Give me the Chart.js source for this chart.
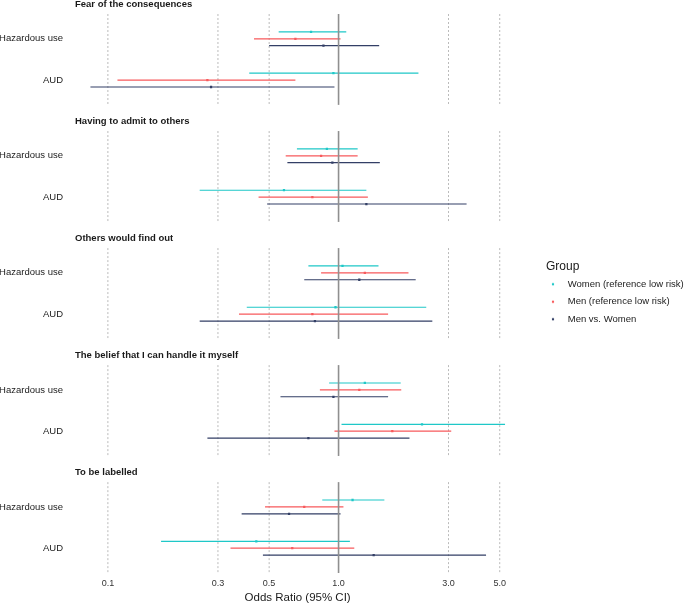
<!DOCTYPE html>
<html>
<head>
<meta charset="utf-8">
<script src="https://cdn.jsdelivr.net/npm/chart.js@4.4.1/dist/chart.umd.min.js"></script>
<style>
  html, body { margin: 0; padding: 0; background: #fff; }
  #wrap { width: 685px; height: 603px; }
</style>
</head>
<body>
<div id="wrap"><canvas id="forest"></canvas></div>
<script>
// facets, rows inside each facet, groups
const panels = [
  'Fear of the consequences',
  'Having to admit to others',
  'Others would find out',
  'The belief that I can handle it myself',
  'To be labelled'
]
const outcomes = ['Hazardous use', 'AUD']
const groups = ['Women (reference low risk)', 'Men (reference low risk)', 'Men vs. Women']
const groupColors = ['#1fc8c8', '#f85a5c', '#333f66']
const xTicks = [0.1, 0.3, 0.5, 1.0, 3.0, 5.0]

// odds ratios + 95% CI, order: panel 1 haz, panel 1 AUD, panel 2 haz, ...
const womenOR = [0.76, 0.95, 0.89, 0.58, 1.04, 0.97, 1.30, 2.30, 1.15, 0.44]
const womenLo = [0.55, 0.41, 0.66, 0.25, 0.74, 0.40, 0.91, 1.03, 0.85, 0.17]
const womenHi = [1.08, 2.22, 1.21, 1.32, 1.49, 2.40, 1.86, 5.27, 1.58, 1.12]

const menOR = [0.65, 0.27, 0.84, 0.77, 1.30, 0.77, 1.23, 1.71, 0.71, 0.63]
const menLo = [0.43, 0.11, 0.59, 0.45, 0.84, 0.37, 0.83, 0.96, 0.48, 0.34]
const menHi = [1.02, 0.65, 1.21, 1.34, 2.01, 1.64, 1.87, 3.08, 1.05, 1.17]

const mwOR = [0.86, 0.28, 0.94, 1.32, 1.23, 0.79, 0.95, 0.74, 0.61, 1.42]
const mwLo = [0.50, 0.084, 0.60, 0.49, 0.71, 0.25, 0.56, 0.27, 0.38, 0.47]
const mwHi = [1.50, 0.96, 1.51, 3.59, 2.16, 2.55, 1.64, 2.03, 1.02, 4.36]

Chart.defaults.font.family = "'Liberation Sans', Arial, sans-serif"
Chart.defaults.color = '#1a1a1a'

// layout of the stacked facets on one numeric y axis
const PANEL_STEP = 2.833
const DODGE = [-0.167, 0, 0.167]

function rowY(i) {
  const p = Math.floor(i / 2)
  const o = i % 2
  return p * PANEL_STEP + o + 1
}

function buildSeries(g, or, lo, hi) {
  const pts = []
  for (let i = 0; i < or.length; i++) {
    const y = rowY(i) + DODGE[g]
    pts.push({x: lo[i], y: y}, {x: or[i], y: y, est: true}, {x: hi[i], y: y}, {x: hi[i], y: null})
  }
  return pts
}

function makeDataset(g, or, lo, hi) {
  return {
    label: groups[g],
    data: buildSeries(g, or, lo, hi),
    showLine: true,
    spanGaps: false,
    borderColor: groupColors[g],
    backgroundColor: groupColors[g],
    borderWidth: 1.2,
    pointStyle: 'rect',
    pointRadius: ctx => (ctx.raw && ctx.raw.est ? 1.6 : 0),
    pointBorderWidth: 0,
    pointBackgroundColor: groupColors[g]
  }
}

// tiny dot shifted left so the label text sits where it does in the reference
function legendDot(color) {
  const c = document.createElement('canvas')
  c.width = 15
  c.height = 4
  const cx = c.getContext('2d')
  cx.fillStyle = color
  cx.beginPath()
  cx.arc(2, 2, 1.2, 0, Math.PI * 2)
  cx.fill()
  return c
}

const panelPlugin = {
  id: 'panels',
  beforeDatasetsDraw(chart) {
    const {ctx, chartArea, scales: {x, y}} = chart
    panels.forEach((title, p) => {
      const top = y.getPixelForValue(p * PANEL_STEP + 0.4)
      const bottom = y.getPixelForValue(p * PANEL_STEP + 2.6)
      ctx.save()
      xTicks.forEach(v => {
        if (v === 1) return
        const px = x.getPixelForValue(v)
        ctx.beginPath()
        ctx.setLineDash([2, 2])
        ctx.strokeStyle = '#aaaaaa'
        ctx.lineWidth = 0.8
        ctx.moveTo(px, top)
        ctx.lineTo(px, bottom)
        ctx.stroke()
      })
      ctx.fillStyle = '#1a1a1a'
      ctx.font = "bold 9.5px 'Liberation Sans', Arial, sans-serif"
      ctx.textBaseline = 'middle'
      ctx.textAlign = 'left'
      ctx.fillText(title, chartArea.left + 5, top - 9.5)
      ctx.restore()
    })
  },
  afterDatasetsDraw(chart) {
    const {ctx, scales: {x, y}} = chart
    const px = x.getPixelForValue(1)
    panels.forEach((title, p) => {
      ctx.save()
      ctx.beginPath()
      ctx.strokeStyle = '#8f8f8f'
      ctx.lineWidth = 1.6
      ctx.moveTo(px, y.getPixelForValue(p * PANEL_STEP + 0.4))
      ctx.lineTo(px, y.getPixelForValue(p * PANEL_STEP + 2.6))
      ctx.stroke()
      ctx.restore()
    })
  },
  afterLayout(chart) {
    const lg = chart.legend
    if (!lg) return
    const w = lg.width
    lg.left = 546
    lg.right = lg.left + w
    lg.top -= 13
    lg.bottom -= 13
  }
}

const config = {
  type: 'scatter',
  data: {
    datasets: [
      makeDataset(0, womenOR, womenLo, womenHi),
      makeDataset(1, menOR, menLo, menHi),
      makeDataset(2, mwOR, mwLo, mwHi)
    ]
  },
  options: {
    responsive: true,
    maintainAspectRatio: false,
    animation: false,
    events: [],
    layout: {padding: {top: 14, left: 0, right: 12, bottom: 0}},
    scales: {
      x: {
        type: 'logarithmic',
        min: 0.0685,
        max: 6.45,
        grid: {display: false, drawTicks: false},
        border: {display: false},
        afterBuildTicks: s => { s.ticks = xTicks.map(v => ({value: v})) },
        ticks: {
          callback: v => Number(v).toFixed(1),
          padding: 5,
          autoSkip: false,
          maxRotation: 0,
          color: '#333',
          font: {size: 9}
        },
        title: {
          display: true,
          text: 'Odds Ratio (95% CI)',
          color: '#1a1a1a',
          font: {size: 11.5},
          padding: {top: 4, bottom: -2}
        },
        afterFit: s => { s.height = 30 }
      },
      y: {
        type: 'linear',
        reverse: true,
        min: 0.4,
        max: 4 * PANEL_STEP + 2.6,
        grid: {display: false, drawTicks: false},
        border: {display: false},
        afterBuildTicks: s => { s.ticks = panels.flatMap((t, p) => outcomes.map((o, k) => ({value: rowY(p * 2 + k)}))) },
        ticks: {
          callback: (v, i) => outcomes[i % 2],
          padding: 7,
          autoSkip: false,
          color: '#1a1a1a',
          font: {size: 9.5}
        },
        afterFit: s => { s.width = 70 }
      }
    },
    plugins: {
      tooltip: {enabled: false},
      legend: {
        position: 'right',
        align: 'center',
        maxWidth: 159,
        labels: {
          usePointStyle: true,
          boxWidth: 9,
          boxHeight: 3,
          padding: 8,
          color: '#1a1a1a',
          font: {size: 9.5},
          generateLabels: chart => Chart.defaults.plugins.legend.labels.generateLabels(chart)
            .map((l, i) => Object.assign(l, {pointStyle: legendDot(groupColors[i])}))
        },
        title: {
          display: true,
          text: 'Group',
          position: 'start',
          color: '#1a1a1a',
          font: {size: 12},
          padding: {top: 2, bottom: -4}
        }
      }
    }
  },
  plugins: [panelPlugin]
}

const forestChart = new Chart(document.getElementById('forest'), config)
</script>
</body>
</html>
